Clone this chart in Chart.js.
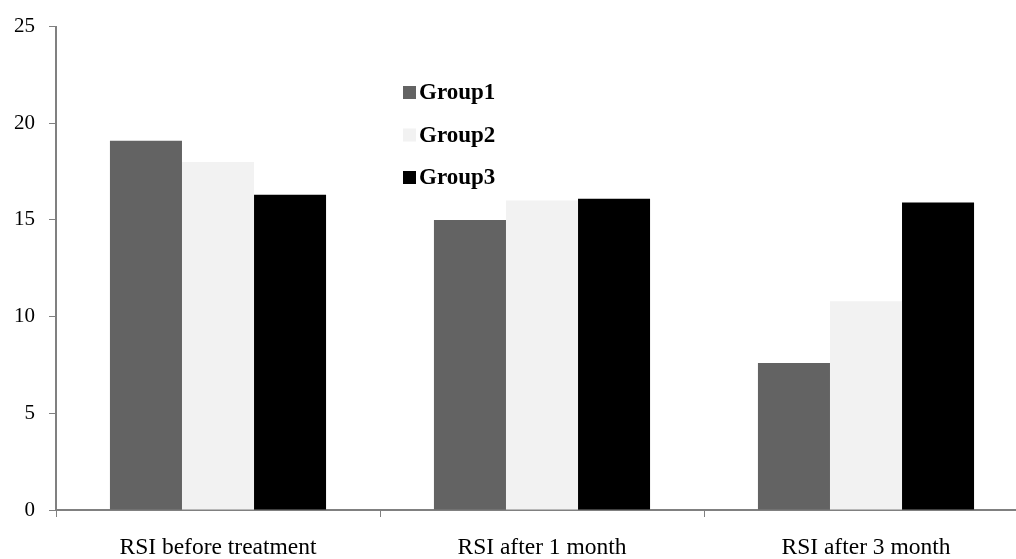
<!DOCTYPE html>
<html lang="en">
<head>
    <meta charset="UTF-8">
    <title>RSI by Group</title>
    <script src="https://cdn.jsdelivr.net/npm/chart.js"></script>
    <style>
        html, body {
            margin: 0;
            padding: 0;
            background: #ffffff;
            overflow: hidden;
        }
        .chart-box {
            width: 1028px;
            height: 559px;
        }
    </style>
</head>
<body>
    <div class="chart-box"><canvas id="chart"></canvas></div>

    <script>
        const categories = ['RSI before treatment', 'RSI after 1 month', 'RSI after 3 month'];
        const group1 = [19.1, 15.0, 7.6];
        const group2 = [18.0, 16.0, 10.8];
        const group3 = [16.3, 16.1, 15.9];
        const seriesNames = ['Group1', 'Group2', 'Group3'];
        const seriesColors = ['#636363', '#f2f2f2', '#000000'];

        const font = "'Liberation Serif', 'Times New Roman', serif";

        // legend drawn inside the plot, stacked vertically like the original
        const innerLegend = {
            id: 'innerLegend',
            afterDraw(chart) {
                const ctx = chart.ctx;
                ctx.save();
                ctx.font = 'bold 23px ' + font;
                ctx.textBaseline = 'middle';
                chart.data.datasets.forEach((ds, i) => {
                    const y = 92.5 + i * 42.5;
                    ctx.fillStyle = ds.backgroundColor;
                    ctx.fillRect(403, y - 6.5, 13, 13);
                    ctx.fillStyle = '#000';
                    ctx.fillText(ds.label, 419, y + 1);
                });
                ctx.restore();
            }
        };

        new Chart(document.getElementById('chart'), {
            type: 'bar',
            data: {
                labels: categories,
                datasets: [group1, group2, group3].map((vals, i) => ({
                    label: seriesNames[i],
                    data: vals,
                    backgroundColor: seriesColors[i],
                    borderWidth: 0,
                    categoryPercentage: 0.667,
                    barPercentage: 1.0
                }))
            },
            options: {
                responsive: true,
                maintainAspectRatio: false,
                animation: false,
                layout: { padding: { top: 23, right: 0, bottom: 0, left: 0 } },
                plugins: {
                    legend: { display: false },
                    tooltip: { enabled: false }
                },
                scales: {
                    x: {
                        border: { color: '#808080', width: 2 },
                        grid: {
                            offset: true,
                            drawOnChartArea: false,
                            drawTicks: true,
                            tickLength: 7,
                            color: '#808080'
                        },
                        ticks: {
                            color: '#000',
                            padding: 17,
                            maxRotation: 0,
                            font: { family: font, size: 23.5 }
                        },
                        afterFit: s => { s.height = 49; }
                    },
                    y: {
                        min: 0,
                        max: 25,
                        border: { color: '#808080', width: 2 },
                        grid: {
                            drawOnChartArea: false,
                            drawTicks: true,
                            tickLength: 7,
                            color: '#808080'
                        },
                        ticks: {
                            stepSize: 5,
                            color: '#000',
                            padding: 14,
                            font: { family: font, size: 21 }
                        },
                        afterFit: s => { s.width = 56; }
                    }
                }
            },
            plugins: [innerLegend]
        });
    </script>
</body>
</html>
